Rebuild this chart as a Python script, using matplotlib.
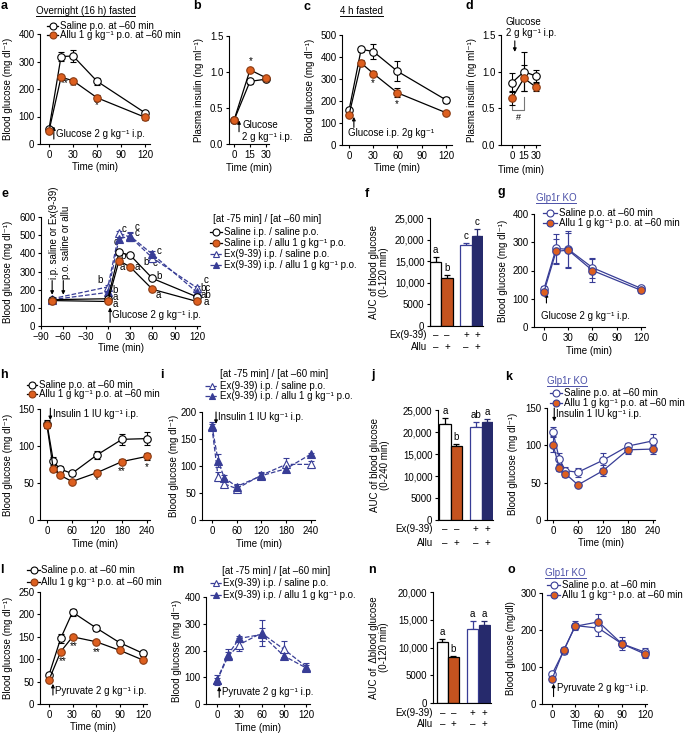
import matplotlib
matplotlib.use("Agg")
import matplotlib.pyplot as plt
from matplotlib.lines import Line2D
from matplotlib.ticker import FuncFormatter

plt.rcParams['font.family'] = ['Liberation Sans', 'DejaVu Sans']
plt.rcParams['font.size'] = 7
plt.rcParams['axes.linewidth'] = 0.8

W, H = 686, 734
ORANGE = '#DD5F1F'
ORANGE_EDGE = '#8A3A12'
ORANGE_BAR = '#C4531F'
BLUE = '#383D96'
NAVY = '#262A6C'
KO_BLUE = '#4B50A8'
INV = '\u207b\u00b9'
MG = 'Blood glucose (mg dl' + INV + ')'

# ---- data ----
a_t = [0, 15, 30, 60, 120]
a_sal = [55, 318, 320, 228, 113]
a_sal_err = [5, 15, 20, 12, 5]
a_allu = [48, 243, 230, 168, 97]
a_allu_err = [5, 6, 5, 12, 10]

b_t = [0, 15, 30]
b_sal = [0.33, 0.87, 0.90]
b_sal_err = [0.02, 0.03, 0.03]
b_allu = [0.33, 1.03, 0.92]
b_allu_err = [0.02, 0.03, 0.03]

c_t = [0, 15, 30, 60, 120]
c_sal = [158, 435, 425, 335, 205]
c_sal_err = [8, 12, 35, 45, 12]
c_allu = [137, 373, 325, 237, 147]
c_allu_err = [6, 15, 12, 20, 8]

d_t = [0, 15, 30]
d_sal = [0.85, 1.00, 0.94]
d_sal_err = [0.13, 0.27, 0.08]
d_allu = [0.64, 0.91, 0.79]
d_allu_err = [0.09, 0.18, 0.06]

e_t = [-75, 0, 15, 30, 60, 120]
e_sal_sal = [145, 150, 405, 390, 262, 160]
e_sal_sal_err = [8, 10, 15, 12, 10, 8]
e_sal_allu = [140, 135, 360, 325, 202, 135]
e_sal_allu_err = [8, 8, 15, 10, 10, 8]
e_ex_sal = [150, 215, 510, 490, 375, 210]
e_ex_sal_err = [8, 12, 15, 20, 20, 10]
e_ex_allu = [145, 185, 480, 495, 395, 185]
e_ex_allu_err = [8, 10, 15, 25, 20, 10]

f_vals = [14800, 11000, 18700, 20900]
f_err = [1100, 700, 500, 1500]
f_letters = ['a', 'b', 'c', 'c']

g_t = [0, 15, 30, 60, 120]
g_sal = [135, 278, 275, 210, 137]
g_sal_err = [10, 50, 65, 35, 8]
g_allu = [125, 268, 272, 200, 130]
g_allu_err = [8, 45, 60, 40, 8]

h_t = [0, 15, 30, 60, 120, 180, 240]
h_sal = [130, 80, 69, 63, 88, 109, 110]
h_sal_err = [5, 5, 4, 3, 5, 7, 9]
h_allu = [128, 69, 61, 52, 64, 79, 86]
h_allu_err = [4, 3, 3, 2, 3, 3, 5]

i_t = [0, 15, 30, 60, 120, 180, 240]
i_ex_sal = [172, 80, 67, 58, 83, 103, 103]
i_ex_sal_err = [5, 8, 5, 5, 6, 12, 6]
i_ex_allu = [175, 110, 78, 62, 82, 95, 122]
i_ex_allu_err = [6, 12, 5, 4, 5, 6, 3]

j_vals = [21800, 16900, 21100, 22300]
j_err = [1300, 400, 1100, 700]
j_letters = ['a', 'b', 'ab', 'a']

k_t = [0, 15, 30, 60, 120, 180, 240]
k_sal = [118, 82, 66, 64, 80, 99, 106]
k_sal_err = [6, 8, 5, 6, 10, 4, 9]
k_allu = [101, 70, 62, 47, 66, 94, 95]
k_allu_err = [10, 5, 5, 2, 7, 5, 6]

l_t = [0, 15, 30, 60, 90, 120]
l_sal = [65, 147, 205, 170, 137, 113]
l_sal_err = [5, 10, 8, 7, 4, 5]
l_allu = [54, 117, 150, 139, 120, 98]
l_allu_err = [3, 4, 3, 3, 3, 3]

m_t = [0, 15, 30, 60, 90, 120]
m_ex_sal = [88, 178, 222, 265, 205, 140]
m_ex_sal_err = [10, 15, 25, 50, 30, 15]
m_ex_allu = [90, 185, 245, 260, 180, 135]
m_ex_allu_err = [20, 20, 10, 25, 10, 10]

n_vals = [11000, 8200, 13300, 14000]
n_err = [500, 300, 1500, 700]
n_letters = ['a', 'b', 'a', 'a']

o_t = [0, 15, 30, 60, 90, 120]
o_sal = [80, 143, 212, 205, 163, 140]
o_sal_err = [6, 8, 12, 20, 18, 12]
o_allu = [67, 145, 210, 222, 163, 135]
o_allu_err = [5, 8, 8, 20, 10, 10]

ex_signs = ['\u2013', '\u2013', '+', '+']
allu_signs = ['\u2013', '+', '\u2013', '+']

# ---- styles ----
SAL = dict(color='black', ls='-', marker='o', mfc='white', mec='black')
ALLU = dict(color='black', ls='-', marker='o', mfc=ORANGE, mec=ORANGE_EDGE)
EXS = dict(color=BLUE, ls='--', marker='^', mfc='white', mec=BLUE)
EXA = dict(color=BLUE, ls='--', marker='^', mfc=BLUE, mec=BLUE)
KOS = dict(color=BLUE, ls='-', marker='o', mfc='white', mec=BLUE)
KOA = dict(color=BLUE, ls='-', marker='o', mfc=ORANGE, mec=BLUE)

fig = plt.figure(figsize=(W / 100, H / 100), dpi=100)


def ftext(x, y, s, **kw):
    kw.setdefault('fontsize', 7)
    return fig.text(x / W, 1 - y / H, s, **kw)


def axes_px(l, t, r, b):
    ax = fig.add_axes([l / W, 1 - b / H, (r - l) / W, (b - t) / H])
    ax.spines['top'].set_visible(False)
    ax.spines['right'].set_visible(False)
    ax.tick_params(direction='out', length=2.5, width=0.8, labelsize=7, pad=1.5)
    return ax


def line_panel(box, xlim, ylim, xticks, yticks, ylab, ylab_x, xlab_y, yfmt=None):
    l, t, r, b = box
    ax = axes_px(l, t, r, b)
    ax.set_xlim(xlim)
    ax.set_ylim(ylim)
    ax.set_xticks(xticks)
    ax.set_yticks(yticks)
    if yfmt:
        ax.yaxis.set_major_formatter(FuncFormatter(lambda v, p: yfmt % v))
    ax.set_ylabel(ylab, fontsize=7)
    ax.yaxis.set_label_coords((ylab_x - l) / (r - l), 0.5)
    ax.yaxis.label.set_va('center')
    ax.set_xlabel('Time (min)', fontsize=7)
    ax.xaxis.set_label_coords(0.5, (b - xlab_y) / (b - t))
    ax.xaxis.label.set_va('center')
    return ax


def series(ax, t, y, e, st, ms=5.4):
    ax.errorbar(t, y, yerr=e, color=st['color'], ls=st['ls'], lw=0.9,
                marker=st['marker'], ms=ms, mfc=st['mfc'], mec=st['mec'], mew=0.8,
                capsize=2.2, elinewidth=0.8, capthick=0.8, clip_on=False, zorder=3)


def legend_px(x0, x1, ys, styles, labels, tx):
    for y, st, lab in zip(ys, styles, labels):
        yy = 1 - y / H
        fig.add_artist(Line2D([x0 / W, x1 / W], [yy, yy], color=st['color'],
                              ls=st['ls'], lw=0.9, transform=fig.transFigure))
        fig.add_artist(Line2D([(x0 + x1) / 2 / W], [yy], marker=st['marker'], ms=5,
                              mfc=st['mfc'], mec=st['mec'], mew=0.8, ls='none',
                              transform=fig.transFigure))
        ftext(tx, y, lab, ha='left', va='center')


def utitle(x0, x1, y, s, color='black'):
    ftext((x0 + x1) / 2, y, s, ha='center', va='center', color=color)
    fig.add_artist(Line2D([x0 / W, x1 / W], [1 - (y + 5) / H] * 2, color=color,
                          lw=0.7, transform=fig.transFigure))


def arrow(ax, x, y0, y1, color='black'):
    # arrow drawn from y0 to y1 (head at y1)
    ax.annotate('', xy=(x, y1), xytext=(x, y0),
                arrowprops=dict(arrowstyle='-|>', color=color, lw=0.8,
                                mutation_scale=5, shrinkA=0, shrinkB=0),
                annotation_clip=False)


def comma(v, p):
    return '{:,.0f}'.format(v) if v >= 10000 else '%d' % v


def bar_panel(box, pos, xmax, vals, errs, letters, ymax, yticks, ylab, ylab_x,
              row_y, row_x):
    l, t, r, b = box
    ax = axes_px(l, t, r, b)
    faces = ['white', ORANGE_BAR, 'white', NAVY]
    edges = ['black', 'black', BLUE, NAVY]
    for p, v, e, fc, ec, lt in zip(pos, vals, errs, faces, edges, letters):
        ax.bar(p, v, width=1, color=fc, edgecolor=ec, linewidth=0.9, zorder=2)
        ax.errorbar(p, v, yerr=[[0], [e]], color=ec, capsize=2.5, elinewidth=0.9,
                    capthick=0.9, ls='none', zorder=1)
        ax.text(p, v + e + ymax * 0.02, lt, ha='center', va='bottom', fontsize=7)
    ax.set_xlim(0, xmax)
    ax.set_ylim(0, ymax)
    ax.set_xticks([])
    ax.set_yticks(yticks)
    ax.yaxis.set_major_formatter(FuncFormatter(comma))
    ax.set_ylabel(ylab, fontsize=7, linespacing=1.1)
    ax.yaxis.set_label_coords((ylab_x - l) / (r - l), 0.5)
    ax.yaxis.label.set_va('center')
    tr = ax.get_xaxis_transform()
    for yy, name, signs in zip(row_y, ['Ex(9-39)', 'Allu'], [ex_signs, allu_signs]):
        fy = (b - yy) / (b - t)
        ftext(row_x, yy, name, ha='right', va='center')
        for p, s in zip(pos, signs):
            ax.text(p, fy, s, transform=tr, ha='center', va='center', fontsize=7,
                    clip_on=False)
    return ax


# ---- panel a ----
ax = line_panel((40, 34, 150, 144), (-11.25, 126), (0, 400), [0, 30, 60, 90, 120],
                [0, 100, 200, 300, 400], MG, 8, 167)
series(ax, a_t, a_sal, a_sal_err, SAL)
series(ax, a_t, a_allu, a_allu_err, ALLU)
arrow(ax, 6, 18, 64)
ax.text(9, 38, 'Glucose 2 g kg' + INV + ' i.p.', va='center', fontsize=7)
ax.text(20, 212, '**', ha='center', fontsize=7)
ax.text(31, 198, '**', ha='center', fontsize=7)
ax.text(60, 130, '*', ha='center', fontsize=7)
utitle(36, 135, 11, 'Overnight (16 h) fasted')
legend_px(47, 58, [26, 35], [SAL, ALLU],
          ['Saline p.o. at \u201360 min', 'Allu 1 g kg' + INV + ' p.o. at \u201360 min'], 60)

# ---- panel b ----
ax = line_panel((229, 36, 269, 144), (-4.7, 32.8), (0, 1.5), [0, 15, 30],
                [0, 0.5, 1.0, 1.5], 'Plasma insulin (ng ml' + INV + ')', 199, 168, '%.1f')
series(ax, b_t, b_sal, b_sal_err, SAL)
series(ax, b_t, b_allu, b_allu_err, ALLU)
arrow(ax, 4.7, 0.17, 0.33)
ax.text(7.8, 0.26, 'Glucose', va='center', fontsize=7, clip_on=False)
ax.text(7.8, 0.10, '2 g kg' + INV + ' i.p.', va='center', fontsize=7, clip_on=False)
ax.text(15.5, 1.11, '*', ha='center', fontsize=7)

# ---- panel c ----
ax = line_panel((342, 35, 452, 145), (-8.7, 127.5), (0, 500), [0, 30, 60, 90, 120],
                [0, 100, 200, 300, 400, 500], MG, 310, 168)
series(ax, c_t, c_sal, c_sal_err, SAL)
series(ax, c_t, c_allu, c_allu_err, ALLU)
arrow(ax, 6, 80, 128)
ax.text(-1, 55, 'Glucose i.p. 2g kg' + INV, va='center', fontsize=7)
ax.text(30, 268, '*', ha='center', fontsize=7)
ax.text(59, 172, '*', ha='center', fontsize=7)
utitle(340, 383, 11, '4 h fasted')

# ---- panel d ----
ax = line_panel((501, 35, 540, 145), (-13.75, 35), (0, 1.5), [0, 15, 30],
                [0, 0.5, 1.0, 1.5], 'Plasma insulin (ng ml' + INV + ')', 472, 170, '%.1f')
series(ax, d_t, d_sal, d_sal_err, SAL)
series(ax, d_t, d_allu, d_allu_err, ALLU)
arrow(ax, 3.5, 1.42, 1.27)
ftext(506, 22, 'Glucose', ha='left', va='center')
ftext(506, 33, '2 g kg' + INV + ' i.p.', ha='left', va='center')
ax.plot([0, 0, 15, 15], [0.53, 0.477, 0.477, 0.655], color='#777777', lw=0.8)
ax.text(7.5, 0.37, '#', ha='center', va='center', fontsize=6.5)

# ---- panel e ----
ax = line_panel((41, 217, 200, 326), (-90, 124), (0, 600),
                [-90, -60, -30, 0, 30, 60, 90, 120], [0, 100, 200, 300, 400, 500, 600],
                MG, 8, 348)
series(ax, e_t, e_ex_sal, e_ex_sal_err, EXS)
series(ax, e_t, e_ex_allu, e_ex_allu_err, EXA)
series(ax, e_t, e_sal_sal, e_sal_sal_err, SAL)
series(ax, e_t, e_sal_allu, e_sal_allu_err, ALLU)
for xa in (-75, -60):
    arrow(ax, xa, 250, 172)
ax.text(-73, 258, 'i.p. saline or Ex(9-39)', rotation=90, ha='center', va='bottom',
        fontsize=7, clip_on=False)
ax.text(-57, 258, 'p.o. saline or allu', rotation=90, ha='center', va='bottom',
        fontsize=7, clip_on=False)
arrow(ax, 3, 20, 102)
ax.text(6, 58, 'Glucose 2 g kg' + INV + ' i.p.', va='center', fontsize=7)
e_letters = [(-11, 253, 'b'), (9.5, 198, 'b'), (9.5, 160, 'a'), (9.5, 121, 'a'),
             (21.5, 534, 'c'), (11, 462, 'c'), (20, 385, 'b'), (20, 325, 'a'),
             (39, 545, 'c'), (39, 512, 'c'), (52, 352, 'b'), (39, 325, 'a'),
             (69, 413, 'c'), (64, 347, 'c'), (69, 275, 'b'), (68, 170, 'a'),
             (132, 253, 'c'), (132, 209, 'bc'), (132, 170, 'ab'), (132, 132, 'a')]
for x, y, s in e_letters:
    ax.text(x, y, s, ha='center', va='center', fontsize=7, clip_on=False)
ftext(213, 219, '[at -75 min] / [at \u201360 min]', ha='left', va='center')
legend_px(210, 222, [232, 243, 254, 265], [SAL, ALLU, EXS, EXA],
          ['Saline i.p. / saline p.o.', 'Saline i.p. / allu 1 g kg' + INV + ' p.o.',
           'Ex(9-39) i.p. / saline p.o.', 'Ex(9-39) i.p. / allu 1 g kg' + INV + ' p.o.'], 224)

# ---- panel f ----
bar_panel((430, 218, 483, 326), [0.5, 1.5, 3.2, 4.2], 4.7, f_vals, f_err, f_letters,
          25000, [0, 5000, 10000, 15000, 20000, 25000],
          'AUC of blood glucose\n(0-120 min)', 379, [335, 347], 427)

# ---- panel g ----
ax = line_panel((534, 214, 645, 327), (-12.4, 125), (0, 400), [0, 30, 60, 90, 120],
                [0, 100, 200, 300, 400], MG, 503, 351)
series(ax, g_t, g_sal, g_sal_err, KOS)
series(ax, g_t, g_allu, g_allu_err, KOA)
arrow(ax, 3, 85, 120)
ax.text(-4, 40, 'Glucose 2 g kg' + INV + ' i.p.', va='center', fontsize=7)
utitle(536, 576, 198, 'Glp1r KO', KO_BLUE)
legend_px(543, 557, [213, 223], [KOS, KOA],
          ['Saline p.o. at \u201360 min', 'Allu 1 g kg' + INV + ' p.o. at \u201360 min'], 559)

# ---- panel h ----
ax = line_panel((40, 409, 150, 520), (-16.8, 247), (0, 150), [0, 60, 120, 180, 240],
                [0, 50, 100, 150], MG, 8, 544)
series(ax, h_t, h_sal, h_sal_err, SAL)
series(ax, h_t, h_allu, h_allu_err, ALLU)
arrow(ax, 8, 151, 135)
ax.text(14, 143, 'Insulin 1 IU kg' + INV + ' i.p.', va='center', fontsize=7)
ax.text(120, 50, '*', ha='center', fontsize=7)
ax.text(180, 62, '**', ha='center', fontsize=7)
ax.text(240, 68, '*', ha='center', fontsize=7)
legend_px(27, 37, [385, 394], [SAL, ALLU],
          ['Saline p.o. at \u201360 min', 'Allu 1 g kg' + INV + ' p.o. at \u201360 min'], 39)

# ---- panel i ----
ax = line_panel((202, 412, 315, 520), (-24, 250), (0, 200), [0, 60, 120, 180, 240],
                [0, 50, 100, 150, 200], MG, 174, 544)
series(ax, i_t, i_ex_sal, i_ex_sal_err, EXS)
series(ax, i_t, i_ex_allu, i_ex_allu_err, EXA)
arrow(ax, 10, 200, 178)
ax.text(16, 190, 'Insulin 1 IU kg' + INV + ' i.p.', va='center', fontsize=7)
ftext(220, 374, '[at -75 min] / [at \u201360 min]', ha='left', va='center')
legend_px(205, 218, [386, 396], [EXS, EXA],
          ['Ex(9-39) i.p. / saline p.o.', 'Ex(9-39) i.p. / allu 1 g kg' + INV + ' p.o.'], 220)

# ---- panel j ----
bar_panel((438, 410, 493, 520), [0.6, 1.6, 3.3, 4.3], 4.8, j_vals, j_err, j_letters,
          25000, [0, 5000, 10000, 15000, 20000, 25000],
          'AUC of blood glucose\n(0-240 min)', 380, [529, 543], 433)

# ---- panel k ----
ax = line_panel((547, 408, 655, 520), (-14.4, 245), (0, 150), [0, 60, 120, 180, 240],
                [0, 50, 100, 150], MG, 513, 543)
series(ax, k_t, k_sal, k_sal_err, KOS)
series(ax, k_t, k_allu, k_allu_err, KOA)
arrow(ax, 3, 150, 132)
ax.text(7, 142, 'Insulin 1 IU kg' + INV + ' i.p.', va='center', fontsize=7)
utitle(547, 587, 381, 'Glp1r KO', KO_BLUE)
legend_px(550, 562, [393, 403], [KOS, KOA],
          ['Saline p.o. at \u201360 min', 'Allu 1 g kg' + INV + ' p.o. at \u201360 min'], 564)

# ---- panel l ----
ax = line_panel((40, 592, 147, 704), (-11.5, 125), (0, 250), [0, 30, 60, 90, 120],
                [0, 50, 100, 150, 200, 250], MG, 8, 727)
series(ax, l_t, l_sal, l_sal_err, SAL)
series(ax, l_t, l_allu, l_allu_err, ALLU)
arrow(ax, 5, 20, 45)
ax.text(8, 30, 'Pyruvate 2 g kg' + INV + ' i.p.', va='center', fontsize=7)
ax.text(18, 88, '**', ha='center', fontsize=7)
ax.text(32, 122, '**', ha='center', fontsize=7)
ax.text(61, 110, '**', ha='center', fontsize=7)
legend_px(27, 40, [570, 582], [SAL, ALLU],
          ['Saline p.o. at \u201360 min', 'Allu 1 g kg' + INV + ' p.o. at \u201360 min'], 41)

# ---- panel m ----
ax = line_panel((206, 597, 310, 704), (-14.8, 125.3), (0, 400), [0, 30, 60, 90, 120],
                [0, 100, 200, 300, 400], MG, 177, 728)
series(ax, m_t, m_ex_sal, m_ex_sal_err, EXS)
series(ax, m_t, m_ex_allu, m_ex_allu_err, EXA)
arrow(ax, 3, 25, 65)
ax.text(7, 45, 'Pyruvate 2 g kg' + INV + ' i.p.', va='center', fontsize=7)
ftext(222, 571, '[at -75 min] / [at \u201360 min]', ha='left', va='center')
legend_px(210, 222, [583, 595], [EXS, EXA],
          ['Ex(9-39) i.p. / saline p.o.', 'Ex(9-39) i.p. / allu 1 g kg' + INV + ' p.o.'], 223)

# ---- panel n ----
bar_panel((433, 592, 491, 703), [0.85, 1.85, 3.6, 4.65], 5.25, n_vals, n_err, n_letters,
          20000, [0, 5000, 10000, 15000, 20000],
          'AUC of  \u0394blood glucose\n(0-120 min)', 379, [713, 724], 433)

# ---- panel o ----
ax = line_panel((542, 593, 647, 704), (-12.9, 122.6), (0, 300), [0, 30, 60, 90, 120],
                [0, 100, 200, 300], 'Blood glucose (mg/dl)', 511, 725)
series(ax, o_t, o_sal, o_sal_err, KOS)
series(ax, o_t, o_allu, o_allu_err, KOA)
arrow(ax, 2, 20, 55)
ax.text(6, 42, 'Pyruvate 2 g kg' + INV + ' i.p.', va='center', fontsize=7)
utitle(545, 586, 573, 'Glp1r KO', KO_BLUE)
legend_px(547, 560, [585, 595], [KOS, KOA],
          ['Saline p.o. at \u201360 min', 'Allu 1 g kg' + INV + ' p.o. at \u201360 min'], 562)

# ---- panel letters ----
for s, x, y in [('a', 1, 9), ('b', 193, 9), ('c', 303, 10), ('d', 466, 9),
                ('e', 1, 197), ('f', 365, 197), ('g', 497, 195),
                ('h', 0, 378), ('i', 160, 378), ('j', 371, 378), ('k', 505, 380),
                ('l', 0, 573), ('m', 172, 573), ('n', 368, 573), ('o', 507, 573)]:
    ftext(x, y, s, fontsize=9, fontweight='bold', ha='left', va='baseline')

fig.savefig('out.png', dpi=100)
